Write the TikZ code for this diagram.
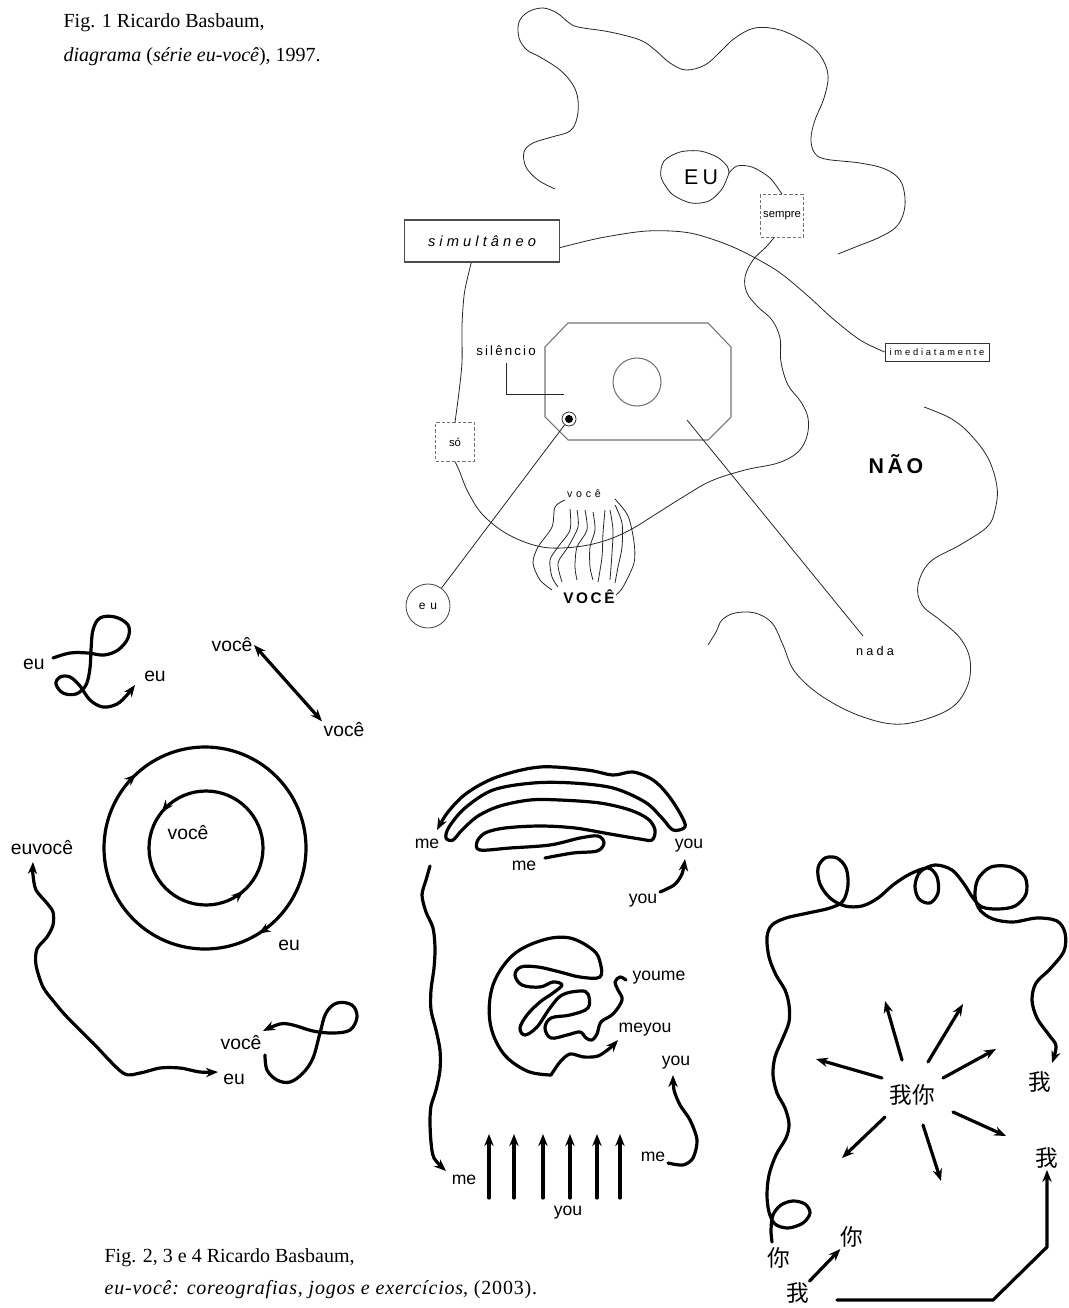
\documentclass[tikz,border=0pt]{standalone}
\usepackage{fontspec}
\setmainfont{Liberation Serif}
\setsansfont{Liberation Sans}
\newfontfamily\cjk{Noto Sans CJK SC}
\usetikzlibrary{arrows.meta}
\newcommand\spaced[2]{{\addfontfeature{LetterSpace=#1}#2}}

\begin{document}
\begin{tikzpicture}[
  x=0.75pt, y=-0.75pt,
  >={Stealth[length=9pt,width=7pt]},
  every node/.style={font=\sffamily, inner sep=1pt},
  hair/.style={line width=0.6pt, draw=black!85},
  grayline/.style={line width=0.8pt, draw=black!55},
  dashbox/.style={draw=black!55, line width=0.6pt, dash pattern=on 2.4pt off 1.6pt,
                  minimum width=#1, minimum height=#1, font=\sffamily\fontsize{8.5pt}{9pt}\selectfont},
  heavy/.style={line width=2.4pt, line cap=round, line join=round},
  figtext/.style={anchor=base west, font=\rmfamily\fontsize{15pt}{18pt}\selectfont},
  lbl/.style={font=\sffamily\fontsize{14.5pt}{15pt}\selectfont},
  lblsm/.style={font=\sffamily\fontsize{13.2pt}{14pt}\selectfont},
  zh/.style={font=\cjk\fontsize{17pt}{18pt}\selectfont},
]
  \useasboundingbox (0,0) rectangle (1068,1308);

  % captions
  \node[figtext] (capa) at (62,28) {Fig. 1 Ricardo Basbaum,};
  \node[figtext] (capb) at (62,62) {\textit{diagrama} (\textit{série eu-você}), 1997.};
  \node[figtext] (capc) at (103,1262) {Fig. 2, 3 e 4 Ricardo Basbaum,};
  \node[figtext] (capd) at (103,1294) {\spaced{4}{\textit{eu-você: coreografias, jogos e exercícios}, (2003).}};

  % ---------- Fig. 1: diagrama ----------
  \node[font=\sffamily\fontsize{16pt}{16pt}\selectfont] (eubig) at (701,177) {\spaced{20}{EU}};
  \node[draw=black!70, line width=0.8pt, minimum width=116pt, minimum height=31.5pt,
        font=\sffamily\itshape\fontsize{11pt}{11pt}\selectfont] (simul) at (482,241) {\spaced{28}{simultâneo}};
  \node[draw=black!80, line width=0.6pt, minimum width=78pt, minimum height=13.5pt,
        font=\sffamily\fontsize{7pt}{7pt}\selectfont] (imed) at (937,352) {\spaced{30}{imediatamente}};
  \node[dashbox=32pt] (sempre) at (782,216) {sempre};
  \node[dashbox=29pt] (so) at (455,442) {só};
  \node[font=\sffamily\fontsize{10pt}{10pt}\selectfont] (silencio) at (506,351) {\spaced{16}{silêncio}};
  \node[font=\sffamily\bfseries\fontsize{16pt}{16pt}\selectfont] (nao) at (896,464) {\spaced{17}{NÃO}};
  \node[font=\sffamily\bfseries\fontsize{11.5pt}{12pt}\selectfont] (vocebig) at (589,597) {\spaced{17}{VOCÊ}};
  \node[font=\sffamily\fontsize{8pt}{8pt}\selectfont] (vocesm) at (584,494) {\spaced{35}{você}};
  \node[font=\sffamily\fontsize{9.5pt}{10pt}\selectfont] (nada) at (875,651) {\spaced{25}{nada}};
  \node[circle, draw=black!75, line width=0.6pt, minimum size=33pt, inner sep=0pt,
        font=\sffamily\fontsize{9pt}{9pt}\selectfont] (eucirc) at (428,606) {\spaced{40}{eu}};
  \node[circle, draw=black!80, line width=0.6pt, minimum size=10.5pt, inner sep=0pt] (bull) at (569,419) {};
  \fill (bull.center) circle (3pt);

  \coordinate (sempreout) at ([xshift=-6pt]sempre.south);
  \coordinate (simulout) at ([yshift=-5pt]simul.east);
  \coordinate (simulbot) at ([xshift=-8pt]simul.south);
  \coordinate (nadatop) at (687,420);
  \coordinate (nadaend) at (863,636);

  % big outline
  \draw[hair] plot[smooth, tension=0.6] coordinates {(555,189) (538,180) (526,167) (524,152)
    (533,143) (552,137) (570,131) (577,118) (578,100) (573,85) (560,70) (540,57) (527,50)
    (519,38) (519,22) (528,12) (543,8) (557,13) (568,22) (578,27) (610,32) (640,40) (655,50)
    (670,63) (686,70) (705,65) (720,52) (735,38) (755,28) (780,30) (805,42) (820,55) (828,75)
    (824,98) (815,120) (811,138) (814,152) (825,159) (860,163) (885,169) (900,180) (905,198)
    (903,215) (895,228) (878,238) (858,246) (838,254)};
  % EU loop and its threads
  \draw[hair] plot[smooth] coordinates {(sempre.north) (770,178) (752,167) (737,166) (729,173)};
  \draw[hair] plot[smooth] coordinates {(729,173) (722,189) (709,201) (691,203) (672,194)
    (661,177) (664,161) (680,152) (700,151) (717,157) (727,166) (729,173)};
  \draw[hair] plot[smooth, tension=0.6] coordinates {(sempreout) (766,247) (753,260) (745,277)
    (747,293) (758,307) (772,320) (780,338) (781,362) (788,385) (801,402) (808,418) (807,436)
    (798,452) (778,463) (745,470) (711,481) (683,497) (656,514) (630,530) (604,541) (575,547)
    (542,547) (509,535) (483,515) (468,492) (459,470) (so.south)};
  \draw[hair] plot[smooth] coordinates {(so.north) (459,392) (462,362) (462,325) (464,296)
    (467,280) (simulbot)};
  \draw[hair] plot[smooth] coordinates {(simulout) (600,238) (647,231) (690,233) (733,247)
    (776,270) (808,296) (832,318) (860,340) (imed.west)};
  % NAO outline
  \draw[hair] plot[smooth, tension=0.6] coordinates {(924,407) (950,418) (969,433) (988,458)
    (997,487) (995,510) (987,527) (960,545) (930,562) (918,585) (922,605) (940,620) (960,638)
    (970,660) (967,687) (948,710) (903,724) (863,717) (823,697) (795,672) (783,645) (772,623)
    (755,613) (735,613) (722,620) (716,632) (708,645)};
  % octagon
  \draw[grayline] (568,323) -- (708,323) -- (731,347) -- (731,417) -- (708,440)
    -- (568,440) -- (545,417) -- (545,347) -- cycle;
  \draw[grayline] (637,382) circle[radius=18pt];
  \draw[hair] ([yshift=-4pt]silencio.south) |- (564,394);
  \draw[hair] (bull) -- (eucirc);
  \draw[hair] (nadatop) -- (nadaend);
  % voce threads
  \draw[hair] plot[smooth] coordinates {(565,500) (555,507) (552,527) (538,547) (533,563) (540,580) (552,590)};
  \draw[hair] plot[smooth] coordinates {(570,509) (570,530) (558,547) (550,560) (552,577) (558,587)};
  \draw[hair] plot[smooth] coordinates {(577,510) (578,527) (568,547) (558,563) (562,582)};
  \draw[hair] plot[smooth] coordinates {(585,510) (587,530) (577,547) (575,567) (577,580)};
  \draw[hair] plot[smooth] coordinates {(593,512) (595,530) (590,547) (590,567) (593,580)};
  \draw[hair] plot[smooth] coordinates {(605,510) (603,533) (602,557) (598,582)};
  \draw[hair] plot[smooth] coordinates {(610,510) (613,530) (612,553) (610,580)};
  \draw[hair] plot[smooth] coordinates {(615,505) (622,523) (622,547) (618,567) (615,583)};
  \draw[hair] plot[smooth] coordinates {(615,499) (628,516) (634,542) (634,563) (623,587) (616,595)};

  % ---------- Fig. 2: eu / voce ----------
  \node[lbl] (eua) at (34,664) {eu};
  \node[lbl] (eub) at (155,676) {eu};
  \node[lbl] (vocea) at (232,645) {você};
  \node[lbl] (voceb) at (344,730) {você};
  \node[lbl] (vocein) at (188,833) {você};
  \node[lbl] (euring) at (289,945) {eu};
  \node[lbl] (euvoce) at (42,848) {euvocê};
  \node[lbl] (eubot) at (234,1079) {eu};
  \node[lbl] (vocebot) at (241,1043) {você};

  \draw[heavy,->] plot[smooth, tension=0.6] coordinates {(53,658) (70,653) (88,653) (104,655)
    (118,650) (128,638) (128,625) (115,617) (100,618) (93,630) (91,650) (90,668) (86,685)
    (76,694) (63,693) (56,684) (60,677) (70,677) (80,686) (90,700) (103,707) (117,704)
    (127,695) (135,685)};
  \draw[heavy,<->] (vocea.east) -- (voceb.north west);
  \draw[heavy] (205,848) circle[radius=75.75pt];
  \draw[heavy] (206,848) circle[radius=42.75pt];
  \draw[heavy,->] (130.3,779.6) -- (136.1,774.1);
  \draw[heavy,->] (265.3,929.5) -- (258.5,933.7);
  \draw[heavy,->] (166.7,805.9) -- (161.7,812.1);
  \draw[heavy,->] (237.4,896.2) -- (243.4,891.0);
  \draw[heavy,<->] plot[smooth, tension=0.5] coordinates {(33,862) (33,875) (36,890) (46,902)
    (53,912) (53,925) (47,937) (37,949) (36,965) (43,987) (55,1003) (67,1017) (93,1043)
    (123,1073) (140,1073) (160,1068) (180,1068) (200,1072) (218,1072)};
  \draw[heavy,->] plot[smooth, tension=0.6] coordinates {(265,1055) (267,1070) (277,1080)
    (290,1082) (303,1073) (313,1058) (320,1033) (326,1013) (337,1003) (352,1005) (357,1017)
    (350,1030) (333,1033) (313,1031) (293,1025) (280,1024) (263,1031)};

  % ---------- Fig. 3: me / you ----------
  \node[lblsm] (mea) at (427,844) {me};
  \node[lblsm] (youa) at (689,846) {you};
  \node[lblsm] (meb) at (524,866) {me};
  \node[lblsm] (youb) at (643,901) {you};
  \node[lblsm] (youme) at (659,978) {youme};
  \node[lblsm] (meyou) at (645,1030) {meyou};
  \node[lblsm] (youc) at (676,1063) {you};
  \node[lblsm] (mec) at (653,1157) {me};
  \node[lblsm] (med) at (464,1180) {me};
  \node[lblsm] (youd) at (568,1213) {you};

  \draw[heavy,->] plot[smooth, tension=0.55] coordinates {(545,858) (573,853) (597,851)
    (604,843) (598,836) (580,838) (550,845) (510,848) (480,850) (477,842) (485,833) (505,828)
    (540,826) (575,828) (610,834) (640,839) (652,840) (655,830) (648,819) (630,810) (600,803)
    (560,800) (530,800) (500,806) (478,816) (462,830) (453,840) (446,838) (449,827) (465,808)
    (493,790) (533,783) (573,783) (613,788) (645,802) (662,818) (673,830) (685,827) (681,815)
    (668,795) (653,780) (633,772) (613,775) (587,770) (540,767) (497,777) (467,793) (448,812)
    (437,830)};
  \draw[heavy,->] plot[smooth] coordinates {(660,892) (674,885) (682,874) (685,859)};
  \draw[heavy,->] plot[smooth] coordinates {(430,866) (426,880) (422,895) (426,912) (433,928)
    (435,948) (434,968) (431,990) (431,1010) (436,1030) (440,1050) (440,1070) (436,1090)
    (431,1106) (430,1122) (431,1142) (434,1158) (446,1171)};
  \draw[heavy] plot[smooth, tension=0.6] coordinates {(626,980) (620,977) (615,982) (618,990)
    (622,1000) (613,1014) (601,1022) (597,1034) (592,1040) (586,1038) (580,1032) (567,1035)
    (551,1038) (545,1028) (551,1018) (570,1015) (588,1008) (588,994) (580,991) (562,995)
    (550,1008) (537,1027) (525,1035) (520,1028) (527,1015) (540,1002) (553,993) (562,985)
    (553,982) (540,987) (522,985) (515,975) (521,967) (538,967) (560,972) (580,977) (600,977)
    (600,962) (593,950) (570,938) (543,940) (513,955) (493,985) (490,1022) (503,1053)
    (527,1071) (551,1075)};
  \draw[heavy,->] plot[smooth] coordinates {(551,1075) (560,1062) (570,1054) (584,1057)
    (598,1056) (610,1048) (618,1040)};
  \foreach \x in {489,514,543,570,597,620}
    \draw[heavy,->] (\x,1198) -- (\x,1134);
  \draw[heavy,->] plot[smooth] coordinates {(668,1163) (683,1165) (693,1158) (697,1140)
    (690,1120) (680,1105) (674,1090) (673,1075)};

  % ---------- Fig. 4: wo / ni ----------
  \node[zh] (wn) at (912,1095) {我你};
  \node[zh] (woa) at (1040,1082) {我};
  \node[zh] (wob) at (1047,1158) {我};
  \node[zh] (nia) at (779,1258) {你};
  \node[zh] (nib) at (852,1237) {你};
  \node[zh] (woc) at (798,1293) {我};

  \draw[heavy,->] plot[smooth, tension=0.55] coordinates {(772,1242) (771,1230) (773,1215)
    (781,1205) (793,1201) (805,1204) (810,1213) (803,1223) (788,1228) (775,1224) (769,1212)
    (767,1195) (769,1175) (776,1155) (786,1138) (789,1124) (785,1108) (777,1093) (773,1075)
    (775,1057) (782,1040) (789,1022) (789,1005) (785,990) (776,975) (769,957) (767,937)
    (772,925) (786,918) (808,913) (830,908) (843,901) (848,885) (846,868) (837,858) (825,858)
    (818,868) (820,884) (830,898) (845,906) (862,906) (878,898) (893,885) (910,874) (928,868)
    (937,877) (938,893) (930,903) (919,899) (915,886) (920,872) (935,865) (952,870) (964,884)
    (973,898) (982,907) (998,909) (1015,906) (1026,894) (1025,877) (1011,867) (991,867)
    (978,879) (975,896) (980,910) (993,919) (1013,922) (1037,918) (1057,921) (1065,933)
    (1064,951) (1050,969) (1036,983) (1032,1000) (1037,1018) (1049,1035) (1056,1046)
    (1052,1063)};
  \foreach \xa/\ya/\xb/\yb in {902/1060/885/1001, 928/1062/963/1004, 943/1078/996/1049,
      882/1078/816/1059, 885/1117/842/1158, 923/1125/941/1181, 953/1112/1006/1136}
    \draw[heavy,->] (\xa,\ya) -- (\xb,\yb);
  \draw[heavy,->] (woc) -- (nib);
  \draw[heavy,->] (837,1300) -- (993,1300) -- (1047,1247) -- (wob.south);
\end{tikzpicture}
\end{document}
